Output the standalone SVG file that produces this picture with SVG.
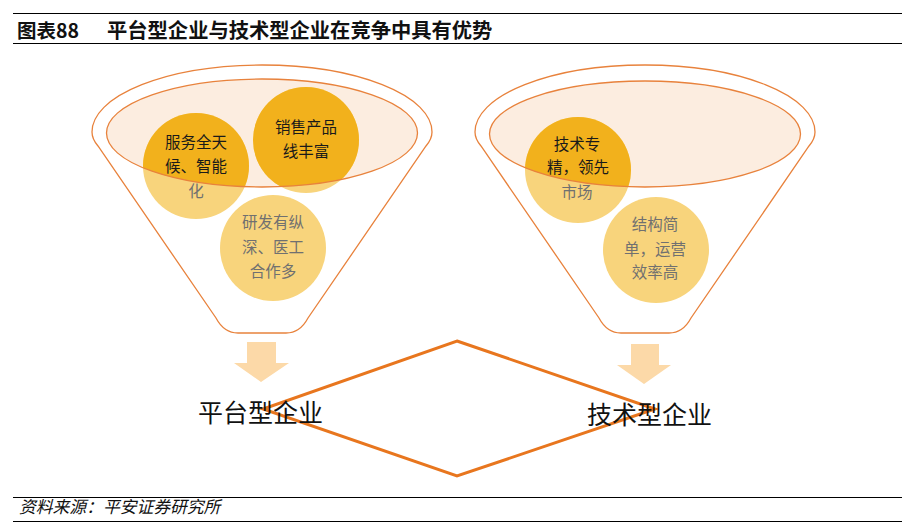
<svg xmlns="http://www.w3.org/2000/svg" width="916" height="532" viewBox="0 0 916 532">
<style>
text{font-family:"Noto Sans CJK SC","Noto Sans",sans-serif}
.rule{stroke:#000;stroke-width:1.2}
.title{font-size:20.3px;font-weight:bold;fill:#111}
.tnum{font-size:19.5px;font-weight:bold;fill:#111}
.foot{font-size:16.8px;font-style:italic;fill:#111}
.funnel{fill:#fff;stroke:#e8823c;stroke-width:1.3}
.bowl{fill:#fcede0}
.rim{fill:none;stroke:#e8823c;stroke-width:1.3}
.lt{fill:#f8d47c}
.dk{fill:#f2b11c}
.ct{font-size:15.5px;text-anchor:middle}
.b{fill:#1a1a1a}
.g{fill:#707070}
.arrow{fill:#fcd9a8}
.lab{font-size:25px;fill:#111}
.dia{fill:none;stroke:#e8761e;stroke-width:3;stroke-linejoin:miter}
</style>
<defs>
<clipPath id="clipL"><ellipse cx="262" cy="133" rx="155.5" ry="54"/></clipPath>
<clipPath id="clipR"><ellipse cx="645" cy="134" rx="155.5" ry="53"/></clipPath>
</defs>
<rect width="916" height="532" fill="#fff"/>
<g id="header">
<line class="rule" x1="13" y1="13.5" x2="902" y2="13.5"/>
<text class="tnum" x="17" y="38">图表88</text>
<text class="title" x="107" y="38">平台型企业与技术型企业在竞争中具有优势</text>
<line class="rule" x1="13" y1="43.5" x2="902" y2="43.5"/>
</g>
<g id="funnel-left">
<path class="funnel" d="M98 146 Q92 139 92 132 A170 67 0 0 1 432 132 Q432 139 426 146 L308 318 Q300 333 286 333 L238 333 Q224 333 216 318 Z"/>
<ellipse class="bowl" cx="262" cy="133" rx="155.5" ry="54"/>
<circle class="lt" cx="196" cy="166" r="53"/>
<circle class="lt" cx="306" cy="140" r="53"/>
<circle class="lt" cx="273" cy="248" r="53"/>
<g clip-path="url(#clipL)">
<circle class="dk" cx="196" cy="166" r="53"/>
<circle class="dk" cx="306" cy="140" r="53"/>
</g>
<ellipse class="rim" cx="262" cy="133" rx="155.5" ry="54"/>
</g>
<g id="node-service">
<text class="ct b" x="196" y="148">服务全天</text>
<text class="ct b" x="196" y="172">候、智能</text>
<text class="ct g" x="196" y="197">化</text>
</g>
<g id="node-sales">
<text class="ct b" x="306" y="133">销售产品</text>
<text class="ct b" x="306" y="157">线丰富</text>
</g>
<g id="node-rd">
<text class="ct g" x="273" y="228">研发有纵</text>
<text class="ct g" x="273" y="253">深、医工</text>
<text class="ct g" x="273" y="277">合作多</text>
</g>
<g id="funnel-right">
<path class="funnel" d="M481 146 Q475 139 475 132 A170 67 0 0 1 815 132 Q815 139 809 146 L691 318 Q683 333 669 333 L621 333 Q607 333 599 318 Z"/>
<ellipse class="bowl" cx="645" cy="134" rx="155.5" ry="53"/>
<circle class="lt" cx="578" cy="170" r="53"/>
<circle class="lt" cx="656" cy="250" r="53"/>
<g clip-path="url(#clipR)">
<circle class="dk" cx="578" cy="170" r="53"/>
</g>
<ellipse class="rim" cx="645" cy="134" rx="155.5" ry="53"/>
</g>
<g id="node-tech">
<text class="ct b" x="577" y="150">技术专</text>
<text class="ct b" x="578" y="173">精，领先</text>
<text class="ct g" x="577" y="198">市场</text>
</g>
<g id="node-struct">
<text class="ct g" x="655" y="230">结构简</text>
<text class="ct g" x="655" y="255">单，运营</text>
<text class="ct g" x="655" y="278">效率高</text>
</g>
<g id="connectors">
<polygon class="arrow" points="247,342 276,342 276,363 289,363 261,382 234,363 247,363"/>
<polygon class="arrow" points="631,344 659,344 659,365 671,365 644,384 617,365 631,365"/>
<polygon class="dia" points="457,341 655,409 457,476 263,409"/>
</g>
<g id="label-platform">
<text class="lab" x="198" y="422">平台型企业</text>
</g>
<g id="label-tech">
<text class="lab" x="587" y="424">技术型企业</text>
</g>
<g id="footer">
<line class="rule" x1="13" y1="497.5" x2="902" y2="497.5"/>
<text class="foot" x="19" y="513">资料来源：平安证券研究所</text>
<line class="rule" x1="13" y1="521.5" x2="902" y2="521.5"/>
</g>
</svg>
